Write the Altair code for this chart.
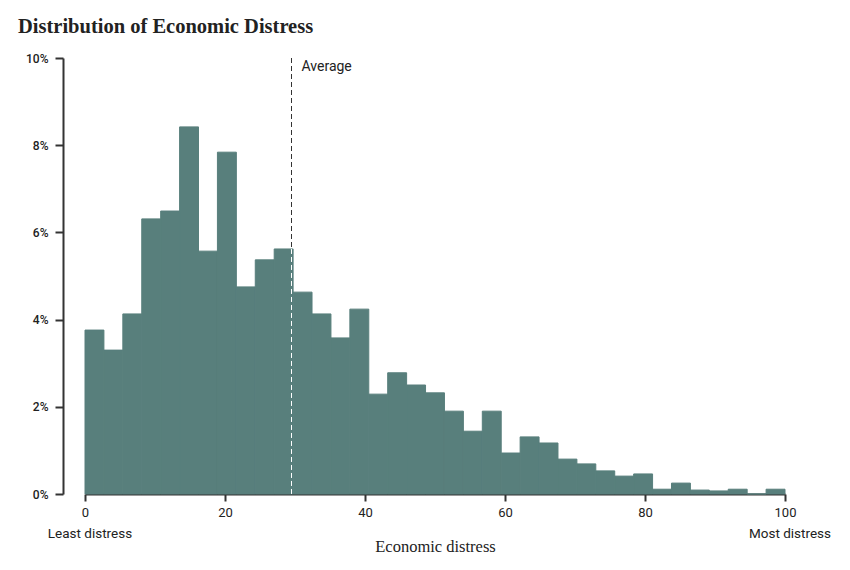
import altair as alt
import numpy as np
import pandas as pd

# Share of observations (%) in each of 37 equal-width bins over 0-100
shares = [3.76, 3.30, 4.13, 6.31, 6.49, 8.42, 5.57, 7.84, 4.75, 5.37,
          5.62, 4.63, 4.13, 3.58, 4.24, 2.29, 2.78, 2.50, 2.32, 1.90,
          1.44, 1.90, 0.94, 1.31, 1.17, 0.80, 0.69, 0.53, 0.41, 0.46,
          0.11, 0.25, 0.09, 0.07, 0.11, 0.00, 0.11]
x_min, x_max = 0, 100
average = 29.5
y_ticks = [0, 2, 4, 6, 8, 10]
x_ticks = [0, 20, 40, 60, 80, 100]
end_labels = ["Least distress", "Most distress"]
end_positions = [0, 100]

edges = np.linspace(x_min, x_max, len(shares) + 1)
bars_df = pd.DataFrame({"start": edges[:-1], "end": edges[1:], "share": shares})

# height of the bar that contains the average (white dashes over the bar)
idx = int(np.searchsorted(edges, average, side="right") - 1)
avg_df = pd.DataFrame({"avg": [average], "top": [10], "bar_top": [shares[idx]],
                       "label": ["Average"]})
ends_df = pd.DataFrame({"x": end_positions, "label": end_labels})

BAR = "#587f7c"
AX = "#333333"

xscale = alt.Scale(domain=[x_min, x_max], nice=False, zero=False)
yscale = alt.Scale(domain=[0, 10], nice=False)

dark_rule = alt.Chart(avg_df).mark_rule(color=AX, strokeDash=[5, 3], strokeWidth=1).encode(
    x=alt.X("avg:Q", scale=xscale),
    y=alt.Y("top:Q", scale=yscale),
    y2=alt.datum(0),
)

bars = alt.Chart(bars_df).mark_rect(color=BAR, stroke=BAR, strokeWidth=1).encode(
    x=alt.X("start:Q", scale=xscale,
            axis=alt.Axis(values=x_ticks, title="Economic distress", grid=False,
                          labelFlush=False,
                          domainColor=AX, domainWidth=2, tickColor=AX, tickWidth=2,
                          tickSize=7, labelFont="Roboto", labelFontSize=13,
                          labelColor="#222222", labelPadding=5,
                          titleFont="Liberation Serif", titleFontSize=16.5,
                          titleFontWeight="normal", titleColor="#222222",
                          titlePadding=19)),
    x2="end:Q",
    y=alt.Y("share:Q", scale=yscale,
            axis=alt.Axis(values=y_ticks, title=None, grid=False, offset=22,
                          labelFlush=False,
                          labelExpr="datum.value + '%'", domainColor=AX, domainWidth=2,
                          tickColor=AX, tickWidth=2, tickSize=8, labelFont="Roboto",
                          labelFontSize=12, labelFontWeight=500, labelColor="#222222",
                          labelPadding=7)),
    y2=alt.datum(0),
)

white_rule = alt.Chart(avg_df).mark_rule(color="white", strokeDash=[5, 3], strokeWidth=1).encode(
    x=alt.X("avg:Q", scale=xscale),
    y=alt.Y("bar_top:Q", scale=yscale),
    y2=alt.datum(0),
)

avg_text = alt.Chart(avg_df).mark_text(align="left", baseline="middle", dx=10, dy=9,
                                       font="Roboto", fontSize=14, color="#222222").encode(
    x=alt.X("avg:Q", scale=xscale),
    y=alt.Y("top:Q", scale=yscale),
    text="label:N",
)

end_text = alt.Chart(ends_df).mark_text(align="center", baseline="middle", dx=5,
                                        font="Roboto", fontSize=13.5, color="#222222").encode(
    x=alt.X("x:Q", scale=xscale),
    y=alt.value(476),
    text="label:N",
)

chart = alt.layer(dark_rule, bars, white_rule, avg_text, end_text).properties(
    width=700, height=436,
    autosize=alt.AutoSizeParams(type="none"),
    padding={"left": 77, "top": 50, "right": 55, "bottom": 68},
    title=alt.TitleParams("Distribution of Economic Distress", anchor="start",
                          frame="group",
                          font="Liberation Serif", fontSize=20.5, fontWeight="bold",
                          color="#222222", dx=-67, offset=15),
).configure_view(stroke=None)

chart.save("out.html", embed_options={"renderer": "svg", "actions": False})
